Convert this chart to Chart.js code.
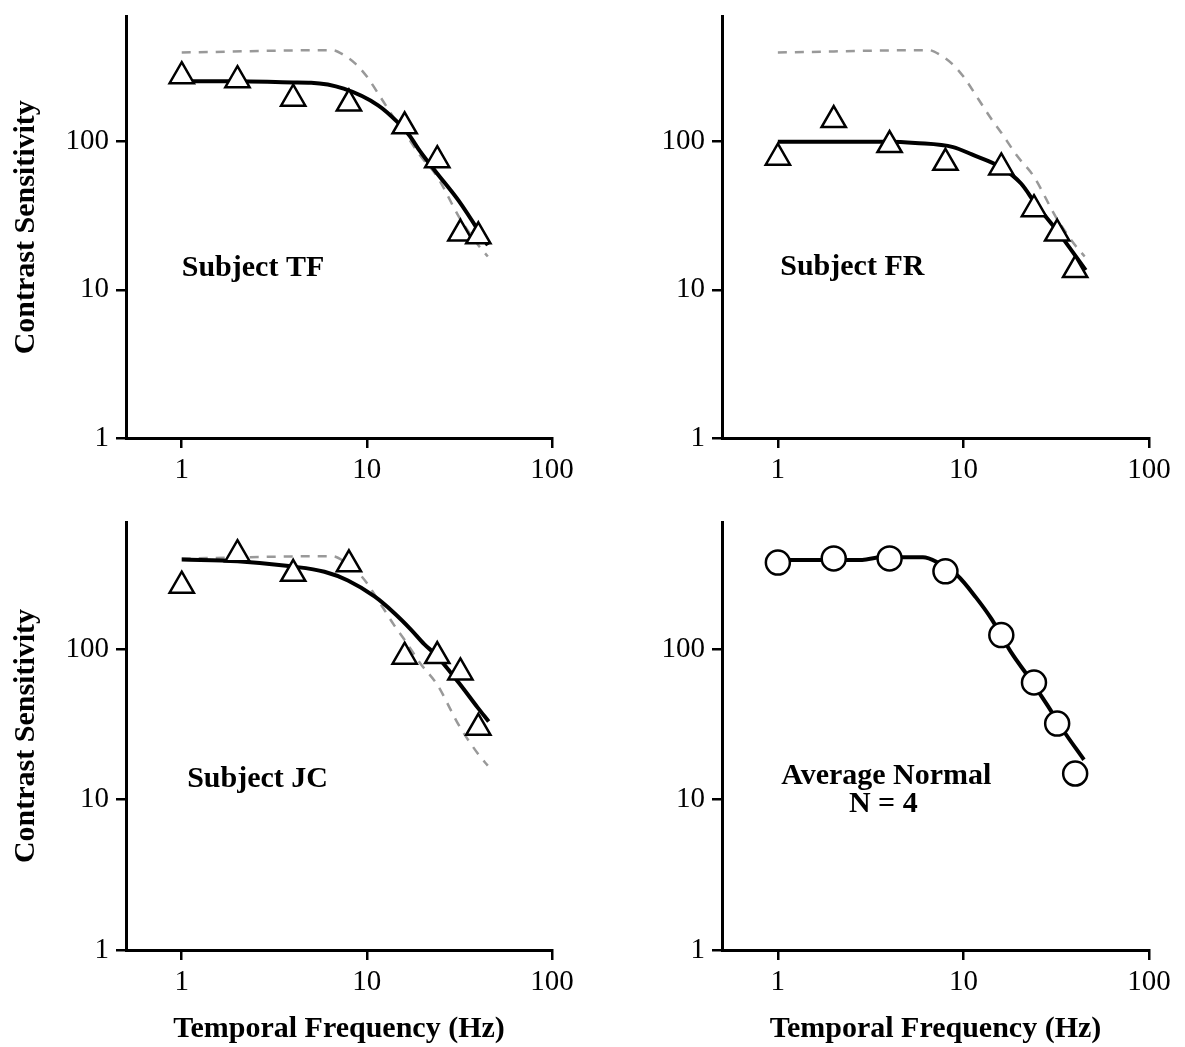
<!DOCTYPE html>
<html>
<head>
<meta charset="utf-8">
<script src="https://cdn.jsdelivr.net/npm/chart.js@4.4.1/dist/chart.umd.min.js"></script>
<style>
  html, body { margin: 0; padding: 0; background: #fff; }
  body { width: 1185px; height: 1047px; position: relative; overflow: hidden; }
  canvas { position: absolute; }
</style>
</head>
<body>
<canvas id="tf" width="590" height="480" style="left:0;top:0"></canvas>
<canvas id="fr" width="595" height="480" style="left:590px;top:0"></canvas>
<canvas id="jc" width="590" height="567" style="left:0;top:480px"></canvas>
<canvas id="avg" width="595" height="567" style="left:590px;top:480px"></canvas>
<script>
// tick values
const xTicks = [1, 10, 100];
const yTicks = [1, 10, 100];

// measured temporal frequencies (Hz)
const freqs = [1, 2, 4, 8, 16, 24, 32, 40];

// contrast sensitivity per subject
const tfPoints = [277, 260, 195, 181, 127, 75, 24, 23];
const frPoints = [78, 140, 95, 72, 67, 35, 24, 13.6];
const jcPoints = [264, 428, 317, 366, 89, 90, 70, 30];
const avgPoints = [376, 401, 401, 329, 124, 60, 32, 14.9];

// fitted curves
const tfFitX = [1, 2, 4, 5, 7.5, 11.5, 14.6, 16.9, 19.4, 23.5, 31.3, 45];
const tfFitY = [256, 256, 251, 250, 228, 176, 136, 111, 86, 63, 40, 20];
const frFitX = [1, 4, 5.5, 8.8, 11.1, 16, 20.5, 24.5, 32, 45.6];
const frFitY = [100, 100, 98, 92, 82, 67, 52, 38, 25, 13.6];
const jcFitX = [1, 2, 3.9, 5.9, 7.9, 11, 13.9, 17.3, 20.4, 23.5, 31.3, 39.6, 45.5];
const jcFitY = [394, 384, 355, 327, 286, 224, 176, 135, 108, 92, 60, 41, 33];
const avgFitX = [1, 2.85, 3.6, 6.05, 7.3, 9.2, 11.7, 14.1, 16, 18.2, 22.5, 28.5, 34.4, 44.6];
const avgFitY = [392, 392, 408, 408, 376, 312, 220, 160, 123, 94, 65, 42, 29, 18.4];

// average normal curve, shown dashed behind each subject
const normX = [1, 6.5, 7.5, 8.7, 10, 12, 14, 16, 19.5, 24, 31.5, 40, 45];
const normY = [400, 415, 385, 335, 275, 195, 145, 115, 80, 58, 31, 20, 16.8];

const FONT = '"Liberation Serif", "Times New Roman", serif';

function pts(xs, ys) {
    return xs.map((x, i) => ({ x: x, y: ys[i] }));
}

function labelPlugin(lines, xv, yv, align) {
    return {
        id: 'panelLabel',
        afterDatasetsDraw(chart) {
            const ctx = chart.ctx;
            const x = chart.scales.x.getPixelForValue(xv);
            const y = chart.scales.y.getPixelForValue(yv);
            ctx.save();
            ctx.font = 'bold 30px ' + FONT;
            ctx.fillStyle = '#000';
            ctx.textAlign = align;
            ctx.textBaseline = 'alphabetic';
            lines.forEach((t, i) => ctx.fillText(t, x + (i ? -3 : 0), y + i * 28));
            ctx.restore();
        }
    };
}

function makePanel(id, p) {
    const datasets = [{
        data: pts(freqs, p.points),
        pointStyle: p.marker,
        pointRadius: p.marker === 'circle' ? 12 : 14,
        pointBorderWidth: 2.5,
        pointBackgroundColor: '#fff',
        pointBorderColor: '#000',
        showLine: false
    }, {
        data: pts(p.fitX, p.fitY),
        showLine: true,
        borderColor: '#000',
        borderWidth: 4,
        pointRadius: 0,
        cubicInterpolationMode: 'monotone'
    }];
    if (p.normal) {
        datasets.push({
            data: pts(normX, normY),
            showLine: true,
            borderColor: '#999',
            borderWidth: 2.5,
            borderDash: [9, 8],
            pointRadius: 0,
            cubicInterpolationMode: 'monotone'
        });
    }

    new Chart(document.getElementById(id), {
        type: 'scatter',
        data: { datasets: datasets },
        options: {
            responsive: false,
            animation: false,
            events: [],
            layout: { padding: { top: p.top, right: p.right, left: 0, bottom: 0 } },
            plugins: { legend: { display: false }, tooltip: { enabled: false } },
            scales: {
                x: {
                    type: 'logarithmic',
                    min: 0.5,
                    max: 100,
                    afterBuildTicks: s => { s.ticks = xTicks.map(v => ({ value: v })); },
                    afterFit: s => { s.height = p.xh; s.paddingLeft = 0; s.paddingRight = 0; },
                    ticks: {
                        callback: v => String(v),
                        autoSkip: false,
                        maxRotation: 0,
                        padding: 5,
                        color: '#000',
                        font: { family: FONT, size: 29 }
                    },
                    grid: { drawOnChartArea: false, tickLength: 10, color: '#000', lineWidth: 2.5 },
                    border: { color: '#000', width: 3 },
                    title: {
                        display: p.xTitle,
                        text: 'Temporal Frequency (Hz)',
                        color: '#000',
                        padding: { top: 0, bottom: 0 },
                        font: { family: FONT, size: 30, weight: 'bold' }
                    }
                },
                y: {
                    type: 'logarithmic',
                    min: 1,
                    max: 700,
                    afterBuildTicks: s => { s.ticks = yTicks.map(v => ({ value: v })); },
                    afterFit: s => { s.width = p.yw; s.paddingTop = 0; s.paddingBottom = 0; },
                    ticks: {
                        callback: v => String(v),
                        autoSkip: false,
                        padding: 7,
                        color: '#000',
                        font: { family: FONT, size: 29 }
                    },
                    grid: { drawOnChartArea: false, tickLength: 10, color: '#000', lineWidth: 2.5 },
                    border: { color: '#000', width: 3 },
                    title: {
                        display: p.yTitle,
                        text: 'Contrast Sensitivity',
                        color: '#000',
                        padding: { top: 8, bottom: 0 },
                        font: { family: FONT, size: 30, weight: 'bold' }
                    }
                }
            }
        },
        plugins: [labelPlugin(p.label, p.labelX, p.labelY, p.labelAlign)]
    });
}

makePanel('tf', {
    points: tfPoints, fitX: tfFitX, fitY: tfFitY, marker: 'triangle', normal: true,
    top: 9, right: 38, yw: 126, xh: 42, xTitle: false, yTitle: true,
    label: ['Subject TF'], labelX: 1, labelY: 12.4, labelAlign: 'left'
});
makePanel('fr', {
    points: frPoints, fitX: frFitX, fitY: frFitY, marker: 'triangle', normal: true,
    top: 9, right: 36, yw: 132, xh: 42, xTitle: false, yTitle: false,
    label: ['Subject FR'], labelX: 1.03, labelY: 12.6, labelAlign: 'left'
});
makePanel('jc', {
    points: jcPoints, fitX: jcFitX, fitY: jcFitY, marker: 'triangle', normal: true,
    top: 42, right: 38, yw: 126, xh: 97, xTitle: true, yTitle: true,
    label: ['Subject JC'], labelX: 1.07, labelY: 12.1, labelAlign: 'left'
});
makePanel('avg', {
    points: avgPoints, fitX: avgFitX, fitY: avgFitY, marker: 'circle', normal: false,
    top: 42, right: 36, yw: 132, xh: 97, xTitle: true, yTitle: false,
    label: ['Average Normal', 'N = 4'], labelX: 3.84, labelY: 12.6, labelAlign: 'center'
});
</script>
</body>
</html>
